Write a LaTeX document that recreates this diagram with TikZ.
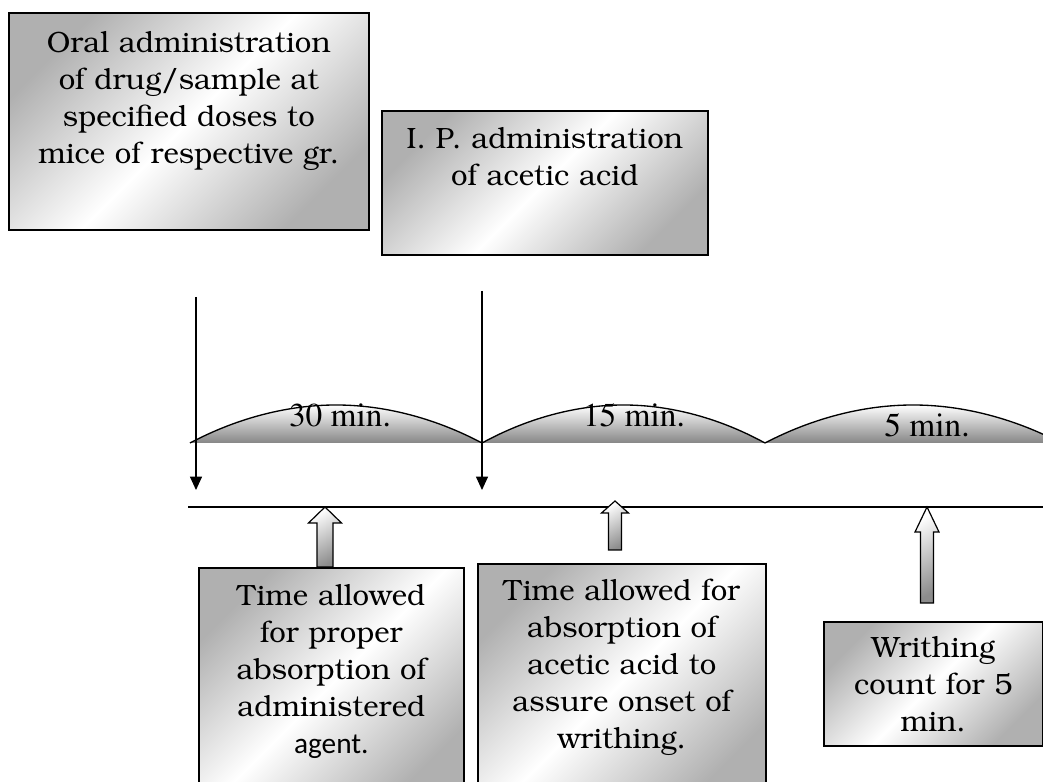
\documentclass[tikz,border=0pt]{standalone}
\usepackage{fontspec}
\usepackage[T1]{fontenc}
\usepackage{bookman}
\newfontfamily\calfont{Carlito}
\usetikzlibrary{arrows.meta, calc, math}

\tikzset{
  procbox/.style={draw=black, line width=1.2pt, left color=gray!62, right color=gray!62, middle color=white,
    shading angle=45, inner sep=0pt, align=center, anchor=north west,
    font=\fontsize{22}{27.75}\selectfont},
  hump/.style={draw=black, line width=1pt, top color=white, bottom color=gray!95},
  blockarrow/.style={draw=black, line width=0.9pt, top color=white, bottom color=gray!90, shading angle=30},
  timelbl/.style={anchor=base, font=\fontfamily{ptm}\fontsize{25}{25}\selectfont},
  dosing/.style={line width=0.8pt, -{Triangle[length=10pt, width=9pt]}},
}

% block arrow pointing up: base, tip, half shaft, half head, head length
\newcommand{\blockup}[5]{%
  \draw[blockarrow] ($(#1)+(-#3,0)$) -- ($(#2)+(-#3,-#5)$) -- ($(#2)+(-#4,-#5)$) -- (#2)
    -- ($(#2)+(#4,-#5)$) -- ($(#2)+(#3,-#5)$) -- ($(#1)+(#3,0)$) -- cycle;}

\begin{document}
\begin{tikzpicture}[x=0.75pt, y=0.75pt]
\useasboundingbox (0,0) rectangle (1043,782);
\tikzmath{
\yb=339;  % base of the humps
\yp=377;  % top of the humps
\yl=275;  % time line
}

%steps above the time line
\node (oral) [procbox, text width=270pt, text height=30pt, text depth=132.75pt] at (8,770)
  {Oral administration\\ of drug/sample at\\ specified doses to\\ mice of respective gr.};
\node (ipacid) [procbox, text width=244.5pt, text height=28.5pt, text depth=79.5pt] at (381,672)
  {I. P. administration\\ of acetic acid};

%steps below the time line
\node (absorb) [procbox, text width=198.75pt, text height=28.5pt, text depth=146.25pt] at (198,215)
  {Time allowed\\ for proper\\ absorption of\\ administered\\ {\calfont agent.}};
\node (onset) [procbox, text width=216pt, text height=27.75pt, text depth=150pt] at (477,219)
  {Time allowed for\\ absorption of\\ acetic acid to\\ assure onset of\\ writhing.};
\node (count) [procbox, text width=164.25pt, text height=27pt, text depth=66pt] at (823,161)
  {Writhing\\ count for 5\\ min.};

%time intervals
\draw[hump] (190,\yb) parabola bend (336,\yp) (482,\yb);
\draw[hump] (482,\yb) parabola bend (623.5,\yp) (765,\yb);
\draw[hump] (765,\yb) parabola bend (913,\yp) (1061,\yb);
\node[timelbl] (t30) at (340,355) {30 min.};
\node[timelbl] (t15) at (634,355) {15 min.};
\node[timelbl] (t5) at (927,345) {5 min.};

%dosing marks
\coordinate (drug0) at (196,485);
\coordinate (drug1) at (196,292);
\coordinate (acid0) at (482,491);
\coordinate (acid1) at (482,292);
\draw[dosing] (drug0) -- (drug1);
\draw[dosing] (acid0) -- (acid1);

%time line
\coordinate (tl0) at (188,\yl);
\coordinate (tl1) at (1043,\yl);
\draw[line width=1.2pt] (tl0) -- (tl1);

%arrows from the steps
\coordinate (up1a) at (325,215);
\coordinate (up1b) at (325,\yl);
\coordinate (up2a) at (615,232);
\coordinate (up2b) at (615,281);
\coordinate (up3a) at (927,179);
\coordinate (up3b) at (927,\yl);
\blockup{up1a}{up1b}{8}{16.5}{16}
\blockup{up2a}{up2b}{6.5}{13.5}{12}
\blockup{up3a}{up3b}{6.5}{12}{25}

\end{tikzpicture}
\end{document}
